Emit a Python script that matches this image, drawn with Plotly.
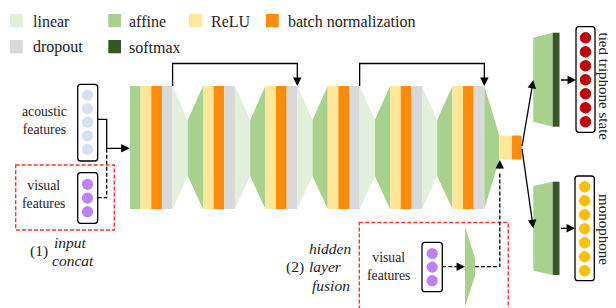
import plotly.graph_objects as go

# ---------------- data ----------------
legend_labels = ["linear", "affine", "ReLU", "batch normalization", "dropout", "softmax"]
legend_colors = ["#e2efda", "#a9d18e", "#ffe699", "#ff8b0a", "#d9d9d9", "#375623"]
hidden_blocks = 6
block_layers = ["affine", "ReLU", "batch normalization", "dropout"]
skip_connections = [(0, 2), (3, 5)]
acoustic_nodes = 5
visual_nodes = 3
output_nodes = [7, 7]
output_labels = ["tied triphone state", "monophone"]
output_node_colors = ["#c00000", "#ffc000"]
input_labels = ["acoustic<br>features", "visual<br>features"]
fusion_labels = [("(1)", "input", "concat"), ("(2)", "hidden", "layer", "fusion")]

COL = dict(zip(legend_labels, legend_colors))
ACOUSTIC_C = "#d6e0f2"
VISUAL_C = "#bf80ff"
RED = "#ff3333"
FONT = "Liberation Serif, Times New Roman, serif"

# page body has an 8px margin: shift the axis window so that data units == page pixels
OFF = 8

# ---------------- layout constants ----------------
TOP, BOT = 86, 209
NTOP, NBOT = 120, 176
BAND, TRAP = 10.65, 15.2

shapes = []
annos = []


def rect(x0, y0, x1, y1, color, line=None):
    shapes.append(dict(type="rect", x0=x0, y0=y0, x1=x1, y1=y1, fillcolor=color,
                       line=dict(width=0) if line is None else line, layer="above"))


def poly(pts, color):
    p = "M" + " L".join(f"{x},{y}" for x, y in pts) + " Z"
    shapes.append(dict(type="path", path=p, fillcolor=color, line=dict(width=0), layer="above"))


def rrect_path(x0, y0, x1, y1, r):
    return (f"M{x0+r},{y0} L{x1-r},{y0} Q{x1},{y0} {x1},{y0+r} L{x1},{y1-r} "
            f"Q{x1},{y1} {x1-r},{y1} L{x0+r},{y1} Q{x0},{y1} {x0},{y1-r} "
            f"L{x0},{y0+r} Q{x0},{y0} {x0+r},{y0} Z")


def rrect(x0, y0, x1, y1, r, fill="white", lc="black", lw=1.3):
    shapes.append(dict(type="path", path=rrect_path(x0, y0, x1, y1, r), fillcolor=fill,
                       line=dict(color=lc, width=lw), layer="above"))


def line_path(pts, dash=None, color="black", width=1.3):
    p = "M" + " L".join(f"{x},{y}" for x, y in pts)
    shapes.append(dict(type="path", path=p, line=dict(color=color, width=width,
                                                      dash=dash or "solid"), layer="above"))


def arrow(x0, y0, x1, y1):
    annos.append(dict(x=x1, y=y1, ax=x0, ay=y0, xref="x", yref="y", axref="x", ayref="y",
                      text="", showarrow=True, arrowhead=2, arrowsize=1.3, arrowwidth=1.3,
                      arrowcolor="black", standoff=0, startstandoff=0))


def circle(cx, cy, r, color):
    shapes.append(dict(type="circle", x0=cx - r, y0=cy - r, x1=cx + r, y1=cy + r,
                       fillcolor=color, line=dict(width=0), layer="above"))


def text(x, y, s, size, xanchor="center", italic=False, angle=0):
    annos.append(dict(x=x, y=y, xref="x", yref="y", text=s, showarrow=False,
                      xanchor=xanchor, yanchor="middle", textangle=angle,
                      font=dict(family=FONT, size=size, color="#222222",
                                style="italic" if italic else "normal")))


# ---------------- legend ----------------
leg_pos = [(10, 14, 30.7), (108.3, 14, 126.7), (189, 14, 209), (266, 14, 286),
           (10, 40, 30.7), (108.3, 40, 126.7)]
for (sx, sy, tx), lab, c in zip(leg_pos, legend_labels, legend_colors):
    rect(sx, sy, sx + 12.7, sy + 13.3, c)
    text(tx, sy + 7.2, lab, 16, xanchor="left")

# ---------------- hidden blocks ----------------
gray_right = []
x = 130.0
for b in range(hidden_blocks):
    if b == 0:
        rect(x, TOP, x + BAND, BOT, COL["affine"])
        x += BAND
    else:
        poly([(x, NTOP), (x + TRAP, TOP), (x + TRAP, BOT), (x, NBOT)], COL["affine"])
        x += TRAP
    for lay in block_layers[1:]:
        rect(x, TOP, x + BAND, BOT, COL[lay])
        x += BAND
    gray_right.append(x)
    if b < hidden_blocks - 1:
        poly([(x, TOP), (x + TRAP, NTOP), (x + TRAP, NBOT), (x, BOT)], COL["linear"])
        x += TRAP
    else:
        poly([(x, TOP), (499.3, 135.5), (499.3, 159.5), (x, BOT)], COL["affine"])

# bottleneck
shapes.append(dict(type="path", path=rrect_path(500, 135.5, 511, 159.5, 1.5),
                   fillcolor=COL["ReLU"], line=dict(width=0), layer="above"))
shapes.append(dict(type="path", path=rrect_path(511.7, 135.5, 521.7, 159.5, 1.5),
                   fillcolor=COL["batch normalization"], line=dict(width=0), layer="above"))

# skip connections
for a, b in skip_connections:
    xa, xb = gray_right[a], gray_right[b]
    line_path([(xa, TOP), (xa, 63.5), (xb, 63.5), (xb, 76)])
    arrow(xb, 74, xb, TOP)

# ---------------- input features ----------------
rrect(77.7, 84.3, 97.7, 161, 3)
for i in range(acoustic_nodes):
    circle(87.5, 95 + i * 13.6, 5.6, ACOUSTIC_C)
rrect(77.7, 172.7, 97.7, 223.3, 3)
for i in range(visual_nodes):
    circle(87.5, 184.3 + i * 13.7, 5.6, VISUAL_C)
text(44, 120.5, input_labels[0], 13.7)
text(43.5, 194, input_labels[1], 13.7)
line_path([(97.7, 119.3), (106.7, 119.3), (106.7, 148.3), (120, 148.3)])
arrow(118, 148.3, 129.6, 148.3)
line_path([(97.7, 197.7), (106.7, 197.7), (106.7, 148.3)], dash="4px,2px")
shapes.append(dict(type="rect", x0=15.7, y0=165, x1=114.3, y1=230, fillcolor="rgba(0,0,0,0)",
                   line=dict(color=RED, width=1.4, dash="4px,2px"), layer="above"))
text(38.5, 251, fusion_labels[0][0], 15.5)
text(70.5, 242, fusion_labels[0][1], 15.5, italic=True)
text(72.5, 260.5, fusion_labels[0][2], 15.5, italic=True)

# ---------------- hidden-layer fusion ----------------
shapes.append(dict(type="rect", x0=359.3, y0=222.5, x1=508.3, y1=330, fillcolor="rgba(0,0,0,0)",
                   line=dict(color=RED, width=1.4, dash="4px,2px"), layer="above"))
rrect(422, 242.3, 442.3, 291.7, 3)
for i in range(visual_nodes):
    circle(432.2, 253.5 + i * 13.6, 5.6, VISUAL_C)
text(388, 266.5, input_labels[1], 13.7)
poly([(465, 226.7), (475, 258), (475, 276), (465, 306.7)], COL["affine"])
line_path([(442.3, 266.7), (458, 266.7)], dash="4px,2px")
arrow(457, 266.7, 465, 266.7)
line_path([(475, 266.7), (499.8, 266.7), (499.8, 172)], dash="4px,2px")
arrow(499.8, 170, 499.8, 160)
text(330, 248.3, fusion_labels[1][1], 15.5, italic=True)
text(295, 266.5, fusion_labels[1][0], 15.5)
text(325, 266, fusion_labels[1][2], 15.5, italic=True)
text(331, 285, fusion_labels[1][3], 15.5, italic=True)

# ---------------- outputs ----------------
out_geo = [dict(tl=37.7, tr=32.7, br=126.7, bl=121.7, ay=80, box=(576, 26.7, 595, 132.3),
                cy0=37.8, ty=86, tx=603.5),
           dict(tl=186, tr=181.7, br=275, bl=270.7, ay=228.3, box=(575, 176, 594.3, 280.7),
                cy0=186.8, ty=229, tx=604)]
for g, n, lab, nc in zip(out_geo, output_nodes, output_labels, output_node_colors):
    poly([(533.3, g["tl"]), (552.7, g["tr"]), (552.7, g["br"]), (533.3, g["bl"])], COL["affine"])
    rect(552.7, g["tr"], 559.5, g["br"], COL["softmax"])
    arrow(521.8, 147.5, 533.3, g["ay"])
    arrow(559.5, g["ay"], g["box"][0], g["ay"])
    bx0, by0, bx1, by1 = g["box"]
    rrect(bx0, by0, bx1, by1, 3)
    for i in range(n):
        circle((bx0 + bx1) / 2, g["cy0"] + i * 14.0, 5.7, nc)
    text(g["tx"], g["ty"], lab, 15, angle=90)

fig = go.Figure(go.Scatter(x=[OFF], y=[OFF], mode="markers", marker=dict(opacity=0),
                           hoverinfo="skip"))
fig.update_layout(width=616, height=308, margin=dict(l=0, r=0, t=0, b=0),
                  xaxis=dict(range=[OFF, 616 + OFF], visible=False, fixedrange=True),
                  yaxis=dict(range=[308 + OFF, OFF], visible=False, fixedrange=True),
                  plot_bgcolor="white", paper_bgcolor="white", showlegend=False,
                  shapes=shapes, annotations=annos)
fig.write_html("out.html")
